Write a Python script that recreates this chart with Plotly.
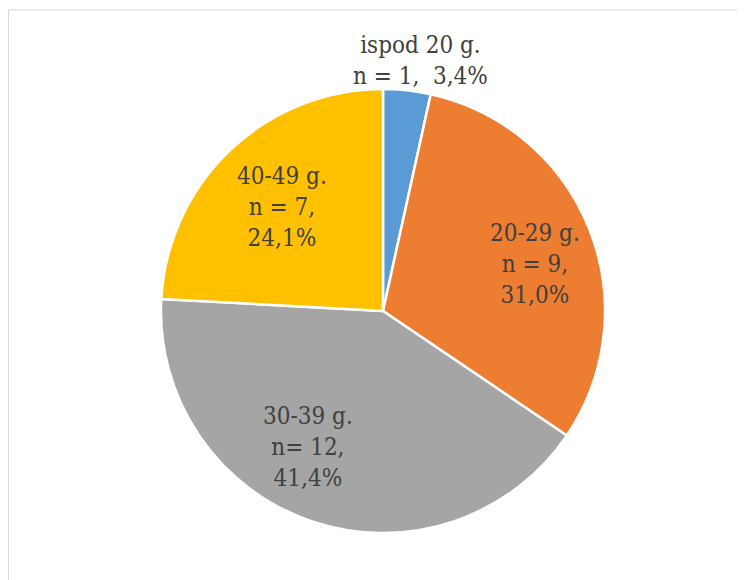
import math
import plotly.graph_objects as go

# age groups of respondents
categories = ["ispod 20 g.", "20-29 g.", "30-39 g.", "40-49 g."]
counts = [1, 9, 12, 7]
n_labels = ["n = 1,", "n = 9,", "n= 12,", "n = 7,"]
percents = ["3,4%", "31,0%", "41,4%", "24,1%"]
colors = ["#5B9BD5", "#ED7D31", "#A5A5A5", "#FFC000"]

W, H = 746, 580
OFF = 8  # page body margin shifts the figure by 8px
CX, CY, R = 383, 311, 222  # pie centre and radius on the page (px)

# label placement: fraction of radius and angular nudge from slice middle
LABEL_R = [1.139, 0.717, 0.700, 0.653]
LABEL_DA = [2.4, 4.5, 10.3, -0.8]

FONT = dict(family="DejaVu Serif Condensed, Liberation Serif, serif", size=24, color="#404040")

fig = go.Figure()

fig.add_trace(
    go.Pie(
        labels=categories,
        values=counts,
        textinfo="none",
        sort=False,
        direction="clockwise",
        rotation=0,
        marker=dict(colors=colors, line=dict(color="white", width=2.5)),
        domain=dict(
            x=[(CX - R - OFF) / W, (CX + R - OFF) / W],
            y=[1 - (CY + R - OFF) / H, 1 - (CY - R - OFF) / H],
        ),
        showlegend=False,
        hoverinfo="label+value+percent",
    )
)

# data labels, placed along each slice's middle angle
total = sum(counts)
cum = 0
for i, cat in enumerate(categories):
    mid = (cum + counts[i] / 2) / total * 360 + LABEL_DA[i]
    cum += counts[i]
    r = LABEL_R[i] * R
    px = CX + r * math.sin(math.radians(mid))
    py = CY - r * math.cos(math.radians(mid))
    if i == 0:
        txt = f"{cat}<br>{n_labels[i]}\u00a0\u00a0{percents[i]}"
    else:
        txt = f"{cat}<br>{n_labels[i]}<br>{percents[i]}"
    fig.add_annotation(
        x=(px - OFF) / W,
        y=1 - (py - OFF) / H,
        xref="paper",
        yref="paper",
        text=txt,
        showarrow=False,
        xanchor="center",
        yanchor="middle",
        align="center",
        font=FONT,
    )

# thin chart-area border
fig.add_shape(
    type="rect",
    xref="paper",
    yref="paper",
    x0=0.5 / W,
    x1=1.05,
    y0=-0.05,
    y1=1 - (10 - OFF) / H,
    line=dict(color="#D9D9D9", width=1),
)

fig.update_layout(
    width=W,
    height=H,
    margin=dict(l=0, r=0, t=0, b=0),
    paper_bgcolor="white",
    plot_bgcolor="white",
)

fig.write_html("out.html")
